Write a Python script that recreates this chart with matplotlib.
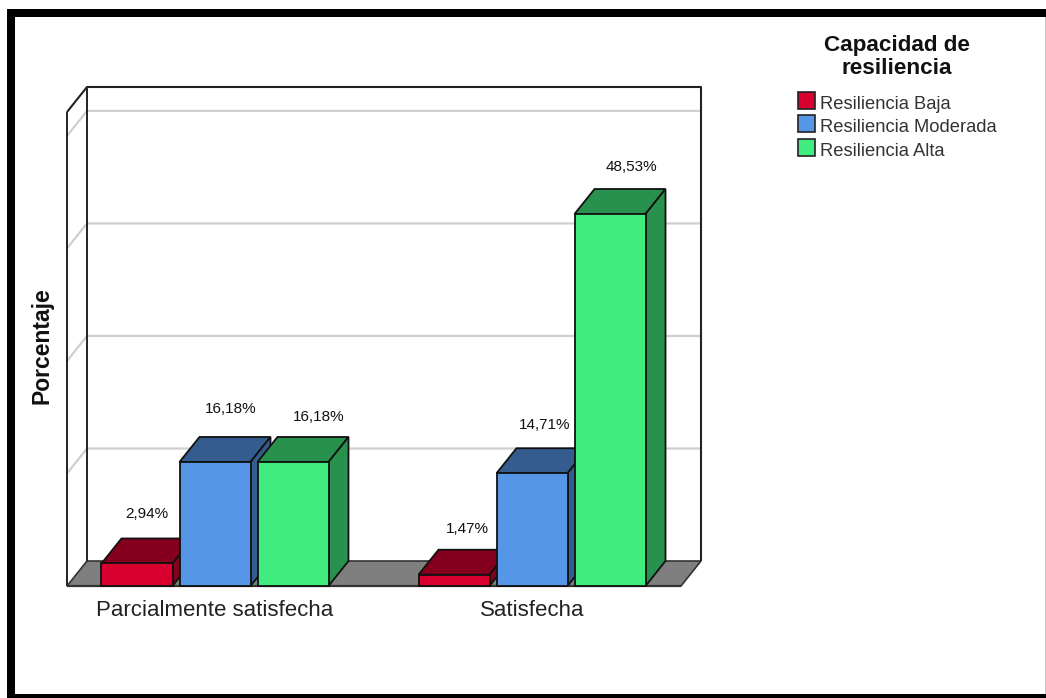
import matplotlib
matplotlib.use('Agg')
import matplotlib.pyplot as plt
from matplotlib.patches import Polygon, Rectangle
from matplotlib.transforms import Affine2D

plt.rcParams['font.family'] = ['Liberation Sans', 'DejaVu Sans']

categories = ['Parcialmente satisfecha', 'Satisfecha']
series_names = ['Resiliencia Baja', 'Resiliencia Moderada', 'Resiliencia Alta']
baja = [2.94, 1.47]
moderada = [16.18, 14.71]
alta = [16.18, 48.53]
gridlines = [14.68, 29.36, 44.04, 58.72]
wall_top = 61.84

front_colors = ['#d90030', '#5596e6', '#41ec7e']
top_colors = ['#84001d', '#345c8e', '#27914d']

W, H = 1046, 698
px_x = 317.0  # pixels between the two groups
px_y = 7.665  # pixels per percent
dx = 20 / px_x  # depth of the 3d look
dy = 25 / px_y
bar_w = 71 / px_x
step = 78 / px_x

fig = plt.figure(figsize=(W / 100, H / 100), dpi=100)
ax = fig.add_axes([0, 0, 1, 1])
ax.set_xlim(-215 / px_x, (W - 215) / px_x)
ax.set_ylim(-(H - 586) / px_y, 586 / px_y)
ax.axis('off')

# pixel coords for frame and legend, origin top left
px = Affine2D().scale(1 / W, -1 / H).translate(0, 1) + fig.transFigure


def poly(points, color, lw=1.3, edge='#111111', z=2):
    ax.add_patch(Polygon(points, closed=True, facecolor=color, edgecolor=edge,
                         linewidth=lw, joinstyle='miter', zorder=z))


def line(xs, ys, color='#222222', lw=1.3, z=1):
    ax.plot(xs, ys, color=color, linewidth=lw, zorder=z, solid_capstyle='butt')


# walls and floor
left = -148 / px_x
right = 466 / px_x
poly([(left, 0), (right, 0), (right + dx, dy), (left + dx, dy)], '#7f7f7f', lw=1.2, edge='#333333', z=1)
for g in gridlines:
    line([left, left + dx, right + dx], [g, g + dy, g + dy], color='#cfcfcf', lw=1.6, z=0.5)
line([left, left], [0, wall_top], lw=1.4)
line([left + dx, left + dx], [dy, wall_top + dy], lw=1.4)
line([left, left + dx, right + dx, right + dx], [wall_top, wall_top + dy, wall_top + dy, dy], lw=1.5)
line([left, right], [0, 0], color='#333333', lw=1.6, z=1.5)

# bars, left to right so that each one covers the side of the last
label_dx = [[10, 15.5, 26], [13.5, 12.5, 21.5]]
label_dy = [[49, 53, 45], [46, 48, 47]]
for i in range(len(categories)):
    for j, vals in enumerate([baja, moderada, alta]):
        v = vals[i]
        x0 = i + (j - 1) * step - bar_w / 2
        x1 = x0 + bar_w
        poly([(x0, v), (x1, v), (x1 + dx, v + dy), (x0 + dx, v + dy)], top_colors[j], z=2 + j)
        poly([(x1, 0), (x1 + dx, dy), (x1 + dx, v + dy), (x1, v)], top_colors[j], z=2 + j)
        poly([(x0, 0), (x1, 0), (x1, v), (x0, v)], front_colors[j], z=2 + j)
        ax.text((x0 + x1) / 2 + label_dx[i][j] / px_x, v + label_dy[i][j] / px_y,
                ('%.2f%%' % v).replace('.', ','), ha='center', va='center',
                fontsize=11, color='#111111', zorder=6)
    ax.text(i, -25 / px_y, categories[i], ha='center', va='center', fontsize=16, color='#222222')

ax.text(42, 346, 'Porcentaje', transform=px, rotation=90, ha='center', va='center',
        fontsize=16.5, fontweight='bold', color='#111111')

# legend
ax.text(897, 46, 'Capacidad de', transform=px, ha='center', va='center', fontsize=16.2, fontweight='bold', color='#111111')
ax.text(897, 69, 'resiliencia', transform=px, ha='center', va='center', fontsize=16.2, fontweight='bold', color='#111111')
for j, name in enumerate(series_names):
    y = 92 + j * 23.3
    ax.add_patch(Rectangle((798, y), 17, 17, transform=px, facecolor=front_colors[j],
                           edgecolor='#222222', linewidth=1.2, zorder=3))
    ax.text(820, y + 12.5, name, transform=px, ha='left', va='center', fontsize=13.2, color='#333333')

# black frame round the picture
frame = [(6.5, 8.5, W - 6.5, 8), (6.5, 8.5, 8.5, H - 8.5), (6.5, 693.5, W - 6.5, 4.5)]
for x, y, w, h in frame:
    ax.add_patch(Rectangle((x, y), w, h, transform=px, facecolor='black', edgecolor='none', zorder=8))
ax.add_patch(Rectangle((W - 1.5, 8.5), 1.5, H - 8.5, transform=px, facecolor='#c8c8c8', edgecolor='none', zorder=7))

fig.savefig('out.png', dpi=100)
